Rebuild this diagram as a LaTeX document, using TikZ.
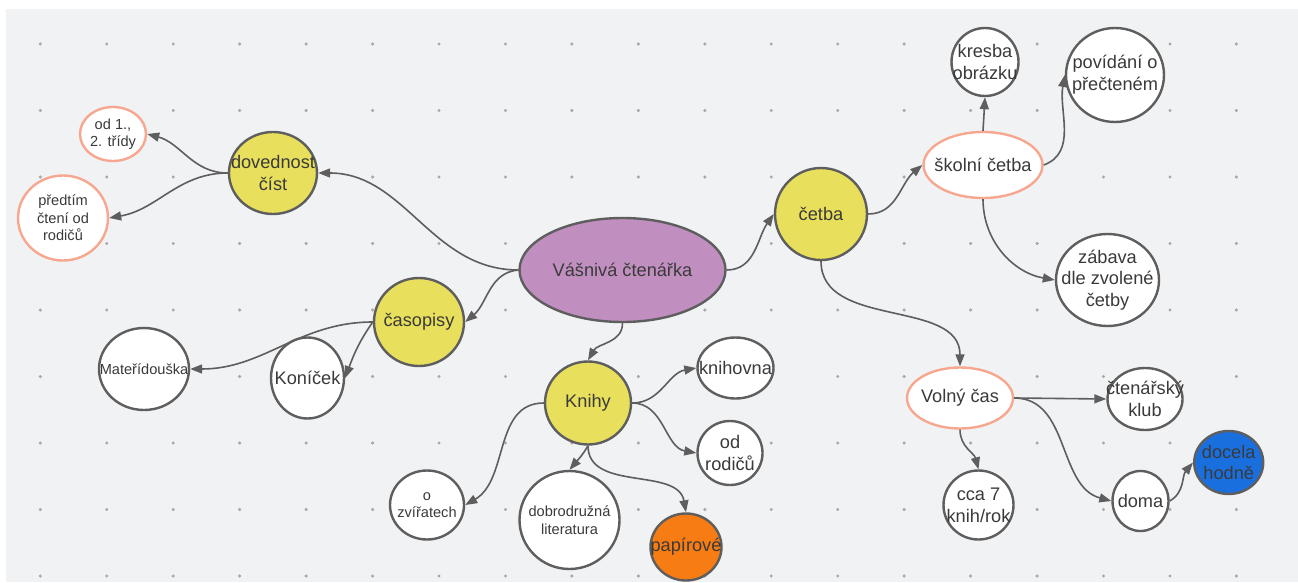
\documentclass[tikz,border=0pt]{standalone}
\usepackage{fontspec}
\setmainfont{Liberation Sans}
\usetikzlibrary{shapes.geometric,arrows.meta}

\definecolor{canvas}{HTML}{F1F2F4}
\definecolor{dotgray}{HTML}{A8A8A8}
\definecolor{edgegray}{HTML}{5E5E5E}
\definecolor{ink}{HTML}{3A3A3A}
\definecolor{salmon}{HTML}{F7A78F}
\definecolor{sun}{HTML}{E8DF5C}
\definecolor{mauve}{HTML}{C08FBF}
\definecolor{tangerine}{HTML}{F77C13}
\definecolor{azure}{HTML}{1A6FDF}

\begin{document}
\begin{tikzpicture}[x=1pt,y=1pt,
  bubble/.style={ellipse, draw=edgegray, line width=2.4pt, inner sep=0pt},
  yel/.style={bubble, fill=sun},
  wht/.style={bubble, fill=white},
  pink/.style={bubble, draw=salmon, fill=white},
  big/.style={font=\fontsize{18.2}{21.7}\selectfont, text=ink, align=center},
  sm/.style={font=\fontsize{14.6}{17.5}\selectfont, text=ink, align=center},
  con/.style={draw=edgegray, line width=1.6pt, -{Triangle[length=12pt,width=9pt]}}]

% page and canvas with dot grid
\useasboundingbox (0,0) rectangle (1298,-583);
\fill[white] (0,0) rectangle (1298,-583);
\fill[canvas] (6,-9) rectangle (1298,-582);
\foreach \i in {0,...,18}{
  \foreach \j in {0,...,8}{
    \fill[dotgray] ({40.3+66.45*\i},{-44-66.5*\j}) circle (1.7);
  }
}

% central topic
\node[bubble, fill=mauve, minimum width=206, minimum height=104,
  label={[big]center:Vášnivá čtenářka}] (vas) at (622.5,-270) {};

% left branch: reading skill
\node[yel, minimum width=88, minimum height=82,
  label={[big]center:dovednost\\číst}] (dov) at (273,-173) {};
\node[pink, minimum width=66, minimum height=54,
  label={[sm]center:{od 1.,\\2. třídy}}] (od12) at (113,-134) {};
\node[pink, minimum width=90, minimum height=85,
  label={[sm]center:předtím\\čtení od\\rodičů}] (pred) at (63,-218) {};

% magazines
\node[yel, minimum width=90, minimum height=88,
  label={[big]center:časopisy}] (cas) at (419,-322) {};
\node[wht, minimum width=90, minimum height=82,
  label={[sm]center:Mateřídouška}] (mat) at (144,-369) {};
\node[wht, minimum width=73, minimum height=81,
  label={[big]center:Koníček}] (kon) at (307.5,-378) {};

% books
\node[yel, minimum width=86, minimum height=83,
  label={[big]center:Knihy}] (kni) at (588,-403) {};
\node[wht, minimum width=76, minimum height=61,
  label={[big]center:knihovna}] (kh) at (735.5,-368) {};
\node[wht, minimum width=65, minimum height=64,
  label={[big]center:od\\rodičů}] (odr) at (730,-453) {};
\node[wht, minimum width=74, minimum height=69,
  label={[sm]center:o\\zvířatech}] (ozv) at (427,-505) {};
\node[wht, minimum width=100, minimum height=98,
  label={[sm]center:dobrodružná\\literatura}] (dob) at (569.5,-520) {};
\node[bubble, fill=tangerine, minimum width=71, minimum height=67,
  label={[big]center:papírové}] (pap) at (686,-547) {};

% reading
\node[yel, minimum width=92, minimum height=92,
  label={[big]center:četba}] (cet) at (821,-214) {};
\node[pink, minimum width=119, minimum height=66,
  label={[big]center:školní četba}] (sko) at (983,-165) {};
\node[wht, minimum width=67, minimum height=68,
  label={[big]center:kresba\\obrázku}] (kre) at (985,-62) {};
\node[wht, minimum width=98, minimum height=94,
  label={[big]center:povídání o\\přečteném}] (pov) at (1115,-75) {};
\node[wht, minimum width=103, minimum height=92,
  label={[big]center:zábava\\dle zvolené\\četby}] (zab) at (1107.5,-280) {};

% free time
\node[pink, minimum width=106, minimum height=61,
  label={[big]center:Volný čas}] (vol) at (960,-398) {};
\node[wht, minimum width=75, minimum height=62,
  label={[big]center:čtenářský\\klub}] (ctk) at (1145,-399) {};
\node[wht, minimum width=70, minimum height=69,
  label={[big]center:cca 7\\knih/rok}] (cca) at (978.5,-505) {};
\node[wht, minimum width=56, minimum height=60,
  label={[big]center:doma}] (dom) at (1140.5,-501) {};
\node[bubble, fill=azure, minimum width=69, minimum height=63,
  label={[big]center:docela\\hodně}] (doc) at (1228.7,-462.5) {};

% connectors
\draw[con] (vas.west) to[out=180,in=0] (dov.east);
\draw[con] (vas.west) to[out=185,in=40] (cas.east);
\draw[con] (vas.south) to[out=-90,in=60] (kni.north);
\draw[con] (vas.east) to[out=0,in=235] (cet.west);

\draw[con] (dov.west) to[out=180,in=-15] (od12.east);
\draw[con] (dov.west) to[out=180,in=10] (pred.east);

\draw[con] (cas.west) to[out=180,in=0] (mat.east);
\draw[con] (cas.west) to[out=235,in=70] (kon.east);

\draw[con] (kni.east) to[out=0,in=190] (kh.west);
\draw[con] (kni.east) to[out=0,in=170] (odr.west);
\draw[con] (kni.west) to[out=180,in=30] (ozv.east);
\draw[con] (kni.south) to[out=240,in=50] (dob.north);
\draw[con] (kni.south) to[out=-90,in=100] (pap.north);

\draw[con] (cet.east) to[out=0,in=220] (sko.west);
\draw[con] (cet.south) to[out=-90,in=90] (vol.north);

\draw[con] (sko.north) -- (kre.south);
\draw[con] (sko.east) to[out=20,in=260] (pov.west);
\draw[con] (sko.south) to[out=-90,in=170] (zab.west);

\draw[con] (vol.east) -- (ctk.west);
\draw[con] (vol.east) to[out=0,in=165] (dom.west);
\draw[con] (vol.south) to[out=-90,in=105] (cca.north);
\draw[con] (dom.east) to[out=30,in=230] (doc.west);

\end{tikzpicture}
\end{document}
